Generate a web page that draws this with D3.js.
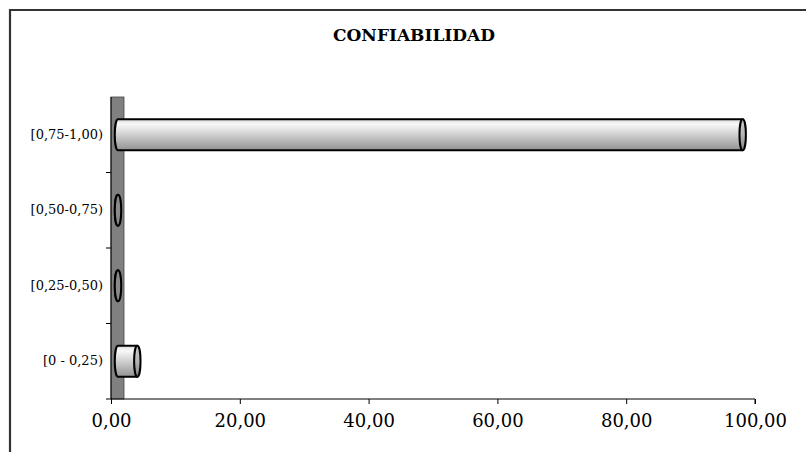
<!DOCTYPE html>
<html>
<head>
<meta charset="utf-8">
<script src="https://cdn.jsdelivr.net/npm/d3@7/dist/d3.min.js"></script>
<style>
  html, body { margin: 0; padding: 0; background: #fff; }
  svg { display: block; }
</style>
</head>
<body>
<svg id="chart" width="806" height="452"></svg>
<script>
// Reliability distribution (percentage of cases per interval)
const categories = ["[0 - 0,25)", "[0,25-0,50)", "[0,50-0,75)", "[0,75-1,00)"];
const values = [3, 0, 0, 97];
const xTicks = [0, 20, 40, 60, 80, 100];
const title = "CONFIABILIDAD";

const svg = d3.select("#chart");
const W = 806, H = 452;
const plot = { left: 111, right: 755, top: 97, bottom: 399 };
const depth = 7;      // 3D depth offset of the cylinders
const wallW = 13;     // width of the side wall
const capRx = 3.2;    // horizontal radius of the cylinder ends

const locale = d3.formatLocale({ decimal: ",", thousands: ".", grouping: [3], currency: ["", ""] });
const fmt = locale.format(".2f");

const x = d3.scaleLinear().domain([0, 100]).range([plot.left, plot.right]);
const y = d3.scaleBand().domain(categories)
  .range([plot.bottom, plot.top])
  .paddingInner(0.59).paddingOuter(0.295);

// gradients
const defs = svg.append("defs");
const body = defs.append("linearGradient").attr("id", "cyl").attr("x1", 0).attr("y1", 0).attr("x2", 0).attr("y2", 1);
[[0, "#dcdcdc"], [0.16, "#f8f8f8"], [0.45, "#d6d6d6"], [0.8, "#aaaaaa"], [1, "#939393"]]
  .forEach(([o, c]) => body.append("stop").attr("offset", o).attr("stop-color", c));
const cap = defs.append("linearGradient").attr("id", "cap").attr("x1", 0).attr("y1", 0).attr("x2", 0).attr("y2", 1);
[[0, "#cccccc"], [0.5, "#b4b4b4"], [1, "#868686"]]
  .forEach(([o, c]) => cap.append("stop").attr("offset", o).attr("stop-color", c));

svg.append("rect").attr("width", W).attr("height", H).attr("fill", "#fff");

// outer frame
svg.append("path")
  .attr("d", `M10,${H + 2} L10,10 L${W + 2},10`)
  .attr("fill", "none").attr("stroke", "#333").attr("stroke-width", 2.2);

// title
svg.append("text")
  .attr("x", 414).attr("y", 41)
  .attr("text-anchor", "middle")
  .attr("font-family", "'DejaVu Serif', serif")
  .attr("font-weight", "bold")
  .attr("font-size", 17)
  .attr("fill", "#000")
  .text(title);

// side wall
svg.append("rect")
  .attr("x", plot.left).attr("y", plot.top)
  .attr("width", wallW).attr("height", plot.bottom - plot.top)
  .attr("fill", "#808080").attr("stroke", "#444").attr("stroke-width", 0.8);

// x axis
const xAxis = svg.append("g")
  .attr("transform", `translate(0,${plot.bottom})`)
  .call(d3.axisBottom(x).tickValues(xTicks).tickFormat(fmt).tickSize(5).tickPadding(10));
xAxis.select(".domain").attr("d", `M${plot.left - 5},0H${plot.right}V5`).attr("stroke", "#000");
xAxis.selectAll(".tick line").attr("stroke", "#000");
xAxis.selectAll(".tick text")
  .attr("font-family", "'DejaVu Serif', serif")
  .attr("font-size", 18).attr("fill", "#000");

// y axis: labels centred on each category, tick marks between categories
const yAxis = svg.append("g")
  .attr("transform", `translate(${plot.left},0)`)
  .call(d3.axisLeft(y).tickSize(0).tickPadding(8));
yAxis.select(".domain").attr("d", `M0,${plot.top}V${plot.bottom}`).attr("stroke", "#000");
yAxis.selectAll(".tick text")
  .attr("font-family", "'DejaVu Serif', serif")
  .attr("font-size", 13).attr("fill", "#000");
const step = y.step();
const bounds = d3.range(1, categories.length).map(i => plot.bottom - i * step);
yAxis.selectAll("line.sep").data(bounds).join("line")
  .attr("class", "sep")
  .attr("x1", -5).attr("x2", 0)
  .attr("y1", d => d).attr("y2", d => d)
  .attr("stroke", "#000");

// cylinders
const data = categories.map((c, i) => ({ cat: c, value: values[i] }));
const bars = svg.append("g").selectAll("g.bar").data(data).join("g").attr("class", "bar");

bars.append("path")
  .attr("d", d => {
    const x0 = x(0) + depth, x1 = x(d.value) + depth;
    const yt = y(d.cat), h = y.bandwidth(), yb = yt + h;
    return `M${x0},${yt}L${x1},${yt}L${x1},${yb}L${x0},${yb}A${capRx},${h / 2} 0 0 1 ${x0},${yt}Z`;
  })
  .attr("fill", "url(#cyl)")
  .attr("stroke", "#000").attr("stroke-width", 2)
  .attr("stroke-linejoin", "round");

bars.append("ellipse")
  .attr("cx", d => x(d.value) + depth)
  .attr("cy", d => y(d.cat) + y.bandwidth() / 2)
  .attr("rx", capRx)
  .attr("ry", y.bandwidth() / 2)
  .attr("fill", d => d.value > 0 ? "url(#cap)" : "#8a8a8a")
  .attr("stroke", "#000").attr("stroke-width", 2);
</script>
</body>
</html>
